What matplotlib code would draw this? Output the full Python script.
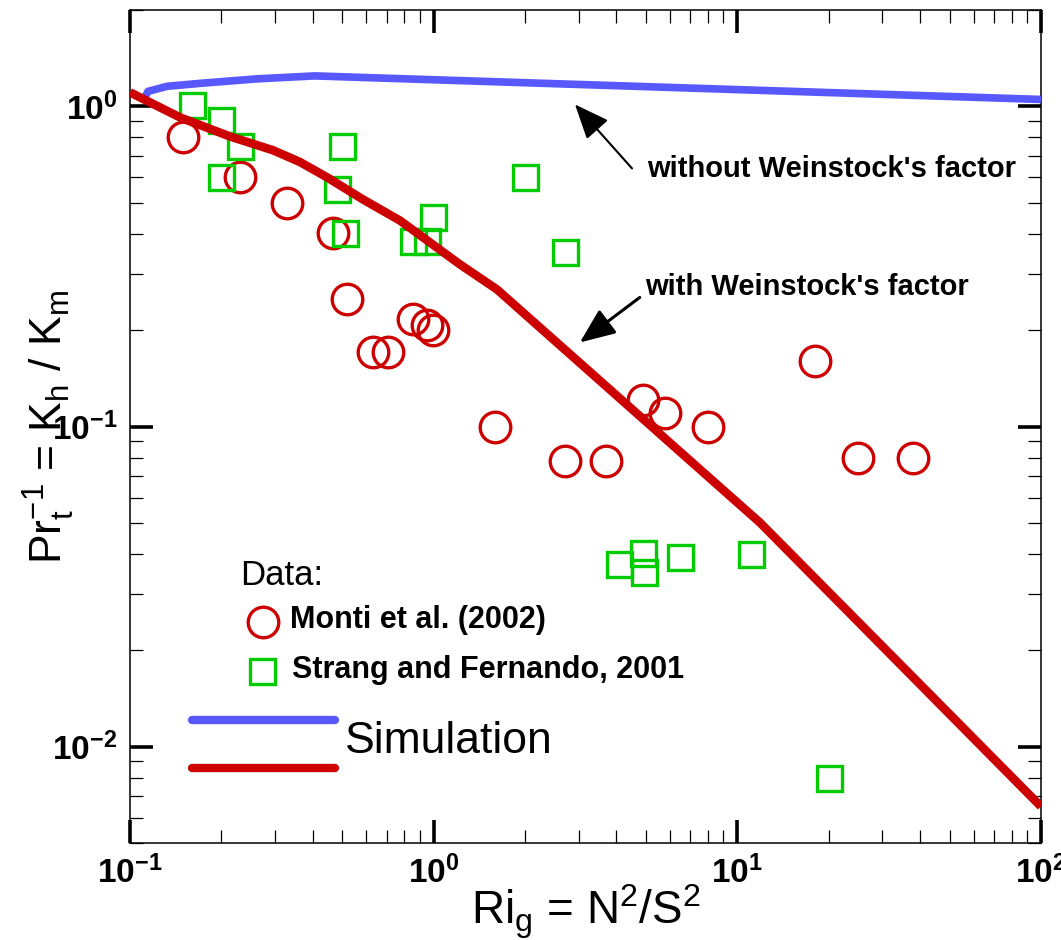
import matplotlib
matplotlib.use("Agg")
import matplotlib.pyplot as plt
from matplotlib.lines import Line2D
from matplotlib.ticker import FixedLocator, FixedFormatter, LogLocator, NullFormatter

plt.rcParams['font.family'] = ['Liberation Sans', 'DejaVu Sans']
plt.rcParams['mathtext.fontset'] = 'custom'
plt.rcParams['mathtext.rm'] = 'Liberation Sans'
plt.rcParams['mathtext.it'] = 'Liberation Sans:italic'
plt.rcParams['mathtext.bf'] = 'Liberation Sans:bold'

# ---------------------------------------------------------------------------
# data
# ---------------------------------------------------------------------------
monti_ri = [0.150, 0.230, 0.328, 0.467, 0.517, 0.632, 0.709, 0.853, 0.948, 0.997,
            1.59, 2.71, 3.69, 4.90, 5.78, 7.98, 18.0, 25.0, 37.9]
monti_pr = [0.804, 0.603, 0.500, 0.401, 0.251, 0.171, 0.171, 0.216, 0.208, 0.200,
            0.100, 0.078, 0.078, 0.121, 0.110, 0.100, 0.160, 0.080, 0.080]

strang_ri = [0.160, 0.199, 0.230, 0.200, 0.500, 0.479, 0.511, 0.853, 0.948, 0.997,
             2.00, 2.71, 4.08, 4.90, 4.94, 6.47, 11.07, 20.0]
strang_pr = [1.007, 0.904, 0.751, 0.601, 0.751, 0.550, 0.401, 0.381, 0.381, 0.451,
             0.601, 0.351, 0.0371, 0.0403, 0.0351, 0.0391, 0.0401, 0.0080]

# simulation without Weinstock's factor
sim_no_ri = [0.112, 0.1146, 0.1324, 0.170, 0.262, 0.406, 100.0]
sim_no_pr = [1.067, 1.114, 1.155, 1.180, 1.219, 1.245, 1.051]

# simulation with Weinstock's factor
sim_w_ri = [0.100, 0.146, 0.213, 0.296, 0.363, 0.446, 0.585, 0.774, 1.22, 1.616, 11.87, 100.0]
sim_w_pr = [1.106, 0.924, 0.806, 0.729, 0.670, 0.600, 0.512, 0.440, 0.321, 0.268, 0.0501, 0.0065]

x_major = [0.1, 1, 10, 100]
x_major_labels = [r'$\mathregular{10^{-1}}$', r'$\mathregular{10^{0}}$',
                  r'$\mathregular{10^{1}}$', r'$\mathregular{10^{2}}$']
y_major = [0.01, 0.1, 1]
y_major_labels = [r'$\mathregular{10^{-2}}$', r'$\mathregular{10^{-1}}$', r'$\mathregular{10^{0}}$']

BLUE = '#5858FF'
RED = '#CC0000'
GREEN = '#00CC00'

# ---------------------------------------------------------------------------
# figure
# ---------------------------------------------------------------------------
fig = plt.figure(figsize=(10.61, 9.40), dpi=100)
ax = fig.add_axes([130 / 1061, 1 - 843 / 940, 911 / 1061, 833 / 940])

ax.plot(monti_ri, monti_pr, linestyle='none', marker='o', ms=22, mfc='none',
        mec=RED, mew=2.4, zorder=2)
ax.plot(strang_ri, strang_pr, linestyle='none', marker='s', ms=18, mfc='none',
        mec=GREEN, mew=2.4, zorder=2)
ax.plot(sim_no_ri, sim_no_pr, color=BLUE, lw=5.5, solid_capstyle='butt', zorder=3)
ax.plot(sim_w_ri, sim_w_pr, color=RED, lw=6.2, solid_capstyle='butt', zorder=3)

ax.set_xscale('log')
ax.set_yscale('log')
ax.set_xlim(0.1, 100)
ax.set_ylim(0.005, 2.0)

ax.xaxis.set_major_locator(FixedLocator(x_major))
ax.xaxis.set_major_formatter(FixedFormatter(x_major_labels))
ax.yaxis.set_major_locator(FixedLocator(y_major))
ax.yaxis.set_major_formatter(FixedFormatter(y_major_labels))
ax.xaxis.set_minor_locator(LogLocator(base=10, subs=range(2, 10)))
ax.yaxis.set_minor_locator(LogLocator(base=10, subs=range(2, 10)))
ax.xaxis.set_minor_formatter(NullFormatter())
ax.yaxis.set_minor_formatter(NullFormatter())

ax.tick_params(which='major', direction='in', length=16.5, width=2.6,
               top=True, right=True, labelsize=24, pad=9)
ax.tick_params(which='minor', direction='in', length=9.5, width=0.9,
               top=True, right=True)
for lbl in ax.get_xticklabels() + ax.get_yticklabels():
    lbl.set_fontweight('bold')
for sp in ax.spines.values():
    sp.set_linewidth(1.1)

ax.set_xlabel(r'Ri$_\mathregular{g}$ = N$^\mathregular{2}$/S$^\mathregular{2}$', fontsize=33)
ax.xaxis.set_label_coords(0.5, -0.047)
ax.set_ylabel(r'Pr$_\mathregular{t}^\mathregular{-1}$ = K$_\mathregular{h}$ / K$_\mathregular{m}$',
              fontsize=32)
ax.yaxis.set_label_coords(-0.058, 0.5)

# annotations
arrow = dict(arrowstyle='-|>,head_length=0.6,head_width=0.25', color='black',
             shrinkA=0, shrinkB=0, mutation_scale=36)
ax.annotate('', xy=(2.92, 1.014), xytext=(4.50, 0.640),
            arrowprops=dict(arrow, lw=1.5))
ax.text(5.04, 0.636, "without Weinstock's factor", fontsize=21, fontweight='bold',
        ha='left', va='center')
ax.annotate('', xy=(3.03, 0.183), xytext=(4.77, 0.253),
            arrowprops=dict(arrow, lw=2.2))
ax.text(4.96, 0.272, "with Weinstock's factor", fontsize=21, fontweight='bold',
        ha='left', va='center')

# hand-made legend
tr = ax.transAxes
ax.text(0.1207, 0.3217, 'Data:', transform=tr, fontsize=25, ha='left', va='center')
ax.add_line(Line2D([0.146], [0.2653], transform=tr, marker='o', ms=22, mfc='none',
                   mec=RED, mew=2.4))
ax.text(0.1756, 0.2677, 'Monti et al. (2002)', transform=tr, fontsize=22,
        fontweight='bold', ha='left', va='center')
ax.add_line(Line2D([0.1449], [0.2065], transform=tr, marker='s', ms=18, mfc='none',
                   mec=GREEN, mew=2.4))
ax.text(0.1778, 0.2077, 'Strang and Fernando, 2001', transform=tr, fontsize=22,
        fontweight='bold', ha='left', va='center')
ax.add_line(Line2D([0.068, 0.225], [0.1477, 0.1477], transform=tr, color=BLUE, lw=6,
                   solid_capstyle='round'))
ax.add_line(Line2D([0.068, 0.225], [0.090, 0.090], transform=tr, color=RED, lw=6,
                   solid_capstyle='round'))
ax.text(0.236, 0.1213, 'Simulation', transform=tr, fontsize=32, ha='left', va='center')

fig.savefig('out.png', dpi=100)
